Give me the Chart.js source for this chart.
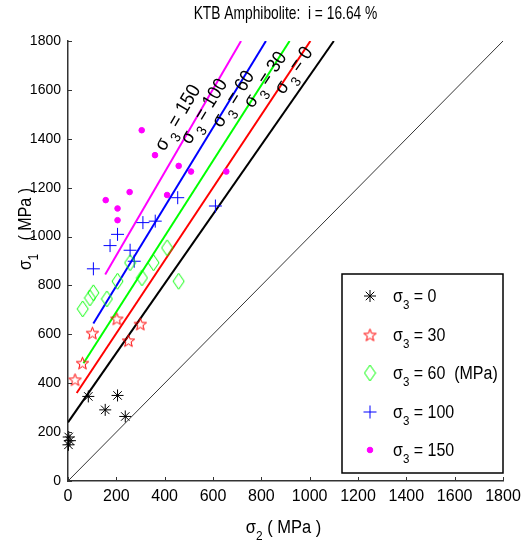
<!DOCTYPE html>
<html><head><meta charset="utf-8">
<script src="https://cdn.jsdelivr.net/npm/chart.js@4.4.1/dist/chart.umd.min.js"></script>
<style>html,body{margin:0;padding:0;background:#fff;}</style>
</head><body>
<canvas id="c" width="530" height="544"></canvas>
<script>
// ---------------- data ----------------
const titleText = 'KTB Amphibolite:  i = 16.64 %';
const axisTicks = [0, 200, 400, 600, 800, 1000, 1200, 1400, 1600, 1800];
const sigma3Levels = ['0', '30', '60', '100', '150'];
const legendSuffix = ['', '', '  (MPa)', '', ''];

// sigma3 = 0
const s2_0 = [3, 8, 2, 84, 154, 205, 237];
const s1_0 = [180, 165, 148, 346, 291, 350, 264];
// sigma3 = 30
const s2_30 = [29, 60, 101, 202, 250, 299];
const s1_30 = [414, 482, 605, 663, 574, 642];
// sigma3 = 60
const s2_60 = [61, 91, 105, 161, 205, 257, 306, 354, 410, 458];
const s1_60 = [704, 749, 770, 745, 817, 893, 831, 893, 954, 817];
// sigma3 = 100
const s2_100 = [105, 174, 205, 257, 274, 310, 361, 454, 610];
const s1_100 = [868, 963, 1009, 944, 899, 1057, 1063, 1159, 1125];
// sigma3 = 150
const s2_150 = [156, 205, 205, 255, 305, 360, 410, 458, 509, 655];
const s1_150 = [1149, 1115, 1067, 1182, 1435, 1333, 1170, 1289, 1266, 1266];

// fitted lines (start, end)
const fit2_0 = [0, 1100],   fit1_0 = [240, 1800];
const fit2_30 = [36, 1003], fit1_30 = [360, 1800];
const fit2_60 = [64, 917],  fit1_60 = [482, 1800];
const fit2_100 = [105, 819], fit1_100 = [644, 1800];
const fit2_150 = [154, 716], fit1_150 = [845, 1800];
// 1:1 line
const diag2 = [0, 1800], diag1 = [0, 1800];

// ---------------- helpers ----------------
const FONT = '"Liberation Sans", Arial, sans-serif';
function pts(xs, ys) { return xs.map((v, i) => ({x: v, y: ys[i]})); }

function makeCanvas(w, h, draw) {
  const c = document.createElement('canvas');
  c.width = w; c.height = h;
  draw(c.getContext('2d'), w, h);
  return c;
}
const pentagram = makeCanvas(15, 15, (g, w, h) => {
  const cx = w / 2, cy = h / 2 + 0.5, R = 6.5, r = 2.7;
  g.beginPath();
  for (let i = 0; i < 10; i++) {
    const rad = i % 2 === 0 ? R : r;
    const a = -Math.PI / 2 + i * Math.PI / 5;
    const px = cx + rad * Math.cos(a), py = cy + rad * Math.sin(a);
    i === 0 ? g.moveTo(px, py) : g.lineTo(px, py);
  }
  g.closePath();
  g.strokeStyle = '#ff0000'; g.lineWidth = 1; g.stroke();
});
const diamond = makeCanvas(13, 18, (g, w, h) => {
  g.beginPath();
  g.moveTo(w / 2, 1); g.lineTo(w - 1, h / 2); g.lineTo(w / 2, h - 1); g.lineTo(1, h / 2);
  g.closePath();
  g.strokeStyle = '#00ff00'; g.lineWidth = 1; g.stroke();
});

function drawRich(ctx, parts, x, y, size, opts) {
  opts = opts || {};
  const sy = opts.sy || 1, rot = opts.rot || 0, align = opts.align || 'left';
  const subSize = size * 0.72;
  let w = 0;
  parts.forEach(p => {
    ctx.font = (p[1] ? subSize : size) + 'px ' + FONT;
    w += ctx.measureText(p[0]).width;
  });
  ctx.save();
  ctx.translate(x, y);
  ctx.rotate(rot);
  ctx.scale(1, sy);
  ctx.textBaseline = 'alphabetic';
  ctx.textAlign = 'left';
  ctx.fillStyle = '#000';
  let cx = align === 'center' ? -w / 2 : (align === 'right' ? -w : 0);
  const dy = opts.dy || 0;
  parts.forEach(p => {
    ctx.font = (p[1] ? subSize : size) + 'px ' + FONT;
    ctx.fillText(p[0], cx, dy + (p[1] ? size * 0.36 : 0));
    cx += ctx.measureText(p[0]).width;
  });
  ctx.restore();
}

// ---------------- plugins ----------------
const inwardTicks = {
  id: 'inwardTicks',
  afterDraw(chart) {
    const {ctx, chartArea: a, scales: {x, y}} = chart;
    ctx.save();
    ctx.strokeStyle = '#333'; ctx.lineWidth = 1;
    axisTicks.forEach(v => {
      const px = Math.round(x.getPixelForValue(v)) + 0.5;
      ctx.beginPath(); ctx.moveTo(px, a.bottom); ctx.lineTo(px, a.bottom - 4); ctx.stroke();
      const py = Math.round(y.getPixelForValue(v)) + 0.5;
      ctx.beginPath(); ctx.moveTo(a.left, py); ctx.lineTo(a.left + 4, py); ctx.stroke();
    });
    ctx.restore();
  }
};

const fitLines = [[fit2_0, fit1_0], [fit2_30, fit1_30], [fit2_60, fit1_60], [fit2_100, fit1_100], [fit2_150, fit1_150]];

const annotations = {
  id: 'annotations',
  afterDraw(chart, args, o) {
    const {ctx, chartArea: a, scales: {x, y}} = chart;
    // title
    drawRich(ctx, [[titleText, 0]], (a.left + a.right) / 2, 19, 13.8, {align: 'center', sy: 1.38});
    // x title
    drawRich(ctx, [['σ', 0], ['2', 1], [' ( MPa )', 0]], (a.left + a.right) / 2 - 2, 533, 16.5, {align: 'center', sy: 1.1});
    // y title
    drawRich(ctx, [['σ', 0], ['1', 1], ['   ( MPa )', 0]], 31, 229, 16, {align: 'center', sy: 1.2, rot: -Math.PI / 2});
    // line labels
    fitLines.forEach((f, i) => {
      const x1 = x.getPixelForValue(f[0][0]), y1 = y.getPixelForValue(f[1][0]);
      const x2 = x.getPixelForValue(f[0][1]), y2 = y.getPixelForValue(f[1][1]);
      const ang = Math.atan2(y2 - y1, x2 - x1);
      const s1 = o.labelAt[i];
      const py = y.getPixelForValue(s1);
      const t = (py - y1) / (y2 - y1);
      const px = x1 + t * (x2 - x1);
      // perpendicular offset to upper-left
      const nx = Math.sin(ang), ny = -Math.cos(ang);
      const cx = px + nx * o.offset, cy = py + ny * o.offset;
      drawRich(ctx, [['σ', 0], [' 3', 1], [' = ' + sigma3Levels[i], 0]], cx, cy, 18, {align: 'center', rot: ang, sy: 1.1, dy: 6});
    });
    // legend
    const L = o.legend;
    ctx.save();
    ctx.strokeStyle = '#000'; ctx.lineWidth = 1.5;
    ctx.strokeRect(L.x, L.y, L.w, L.h);
    ctx.restore();
    const ds = chart.data.datasets;
    for (let i = 0; i < 5; i++) {
      const ry = L.rows[i];
      const d = ds[i];
      ctx.save();
      if (d.pointStyle instanceof HTMLCanvasElement) {
        ctx.drawImage(d.pointStyle, L.mx - d.pointStyle.width / 2, ry - d.pointStyle.height / 2);
      } else {
        ctx.strokeStyle = d.borderColor; ctx.fillStyle = d.backgroundColor; ctx.lineWidth = d.borderWidth;
        Chart.helpers.drawPoint(ctx, {pointStyle: d.pointStyle, radius: d.pointRadius, borderWidth: d.borderWidth, rotation: 0}, L.mx, ry);
      }
      ctx.restore();
      drawRich(ctx, [['σ', 0], ['3', 1], [' = ' + sigma3Levels[i] + legendSuffix[i], 0]], L.tx, ry + 6, 16, {sy: 1.15});
    }
  }
};

// ---------------- chart ----------------
const scatterCommon = {showLine: false, clip: false};
const tickFmt = v => String(v);
new Chart(document.getElementById('c'), {
  type: 'scatter',
  data: {
    datasets: [
      Object.assign({label: 'σ3 = 0', data: pts(s2_0, s1_0), pointStyle: 'star', pointRadius: 6, borderColor: '#000', backgroundColor: '#000', borderWidth: 1}, scatterCommon),
      Object.assign({label: 'σ3 = 30', data: pts(s2_30, s1_30), pointStyle: pentagram, pointRadius: 7, borderColor: '#ff0000', backgroundColor: '#ff0000', borderWidth: 1}, scatterCommon),
      Object.assign({label: 'σ3 = 60', data: pts(s2_60, s1_60), pointStyle: diamond, pointRadius: 8, borderColor: '#00ff00', backgroundColor: '#00ff00', borderWidth: 1}, scatterCommon),
      Object.assign({label: 'σ3 = 100', data: pts(s2_100, s1_100), pointStyle: 'cross', pointRadius: 6.5, borderColor: '#0000ff', backgroundColor: '#0000ff', borderWidth: 1}, scatterCommon),
      Object.assign({label: 'σ3 = 150', data: pts(s2_150, s1_150), pointStyle: 'circle', pointRadius: 2.8, borderColor: '#ff00ff', backgroundColor: '#ff00ff', borderWidth: 1}, scatterCommon),
      {label: 'fit 0', data: pts(fit2_0, fit1_0), showLine: true, pointRadius: 0, borderColor: '#000', borderWidth: 2},
      {label: 'fit 30', data: pts(fit2_30, fit1_30), showLine: true, pointRadius: 0, borderColor: '#ff0000', borderWidth: 2},
      {label: 'fit 60', data: pts(fit2_60, fit1_60), showLine: true, pointRadius: 0, borderColor: '#00ff00', borderWidth: 2},
      {label: 'fit 100', data: pts(fit2_100, fit1_100), showLine: true, pointRadius: 0, borderColor: '#0000ff', borderWidth: 2},
      {label: 'fit 150', data: pts(fit2_150, fit1_150), showLine: true, pointRadius: 0, borderColor: '#ff00ff', borderWidth: 2},
      {label: '1:1', data: pts(diag2, diag1), showLine: true, pointRadius: 0, borderColor: '#000', borderWidth: 0.8}
    ]
  },
  options: {
    responsive: false,
    animation: false,
    devicePixelRatio: 1,
    layout: {padding: {top: 41, right: 27, left: 0, bottom: 0}},
    plugins: {
      legend: {display: false},
      title: {display: false},
      tooltip: {enabled: false},
      annotations: {
        labelAt: [1642, 1605, 1527, 1478, 1453],
        offset: 17,
        legend: {x: 342, y: 274, w: 161, h: 199, mx: 370, tx: 393, rows: [296, 335, 373, 412, 450]}
      }
    },
    scales: {
      x: {
        type: 'linear', min: 0, max: 1800,
        afterFit: s => { s.height = 63; },
        afterBuildTicks: s => { s.ticks = axisTicks.map(v => ({value: v})); },
        ticks: {stepSize: 200, autoSkip: false, callback: tickFmt, color: '#000', padding: 6, maxRotation: 0, font: {family: FONT, size: 16}},
        grid: {display: false, drawTicks: false},
        border: {display: true, color: '#333', width: 1.5}
      },
      y: {
        type: 'linear', min: 0, max: 1800,
        afterFit: s => { s.width = 68; },
        afterBuildTicks: s => { s.ticks = axisTicks.map(v => ({value: v})); },
        ticks: {stepSize: 200, autoSkip: false, callback: tickFmt, color: '#000', padding: 7, font: {family: FONT, size: 14}},
        grid: {display: false, drawTicks: false},
        border: {display: true, color: '#333', width: 1.5}
      }
    }
  },
  plugins: [inwardTicks, annotations]
});
</script>
</body></html>
